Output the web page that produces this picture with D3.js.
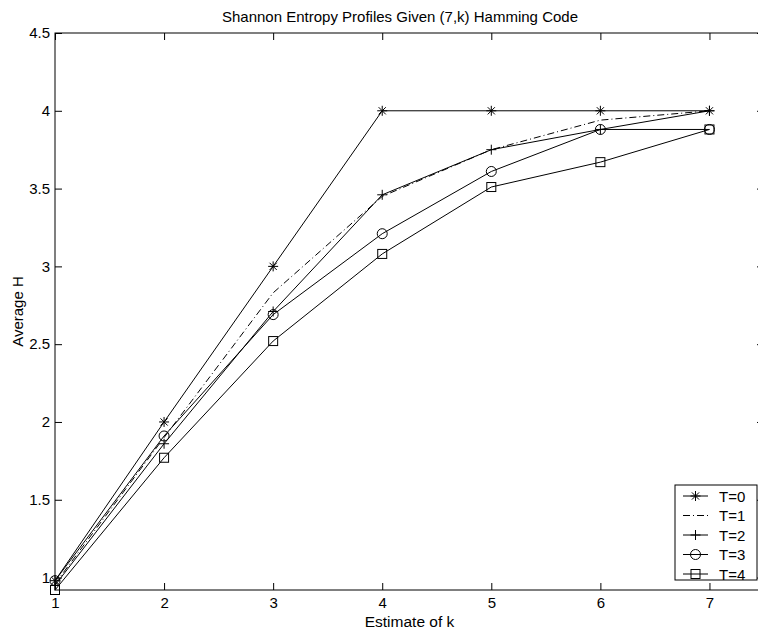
<!DOCTYPE html>
<html>
<head>
<meta charset="utf-8">
<script src="https://cdn.jsdelivr.net/npm/d3@7"></script>
<style>
  body { margin: 0; background: #fff; }
  svg { display: block; font-family: 'Liberation Sans', Arial, sans-serif; }
</style>
</head>
<body>
<div id="chart"></div>
<script>
const ks = [1, 2, 3, 4, 5, 6, 7];
const t0 = [0.98, 2.0, 3.0, 4.0, 4.0, 4.0, 4.0];
const t1 = [0.96, 1.90, 2.83, 3.45, 3.75, 3.94, 4.0];
const t2 = [0.95, 1.86, 2.71, 3.46, 3.75, 3.88, 4.0];
const t3 = [0.98, 1.91, 2.69, 3.21, 3.61, 3.88, 3.88];
const t4 = [0.92, 1.77, 2.52, 3.08, 3.51, 3.67, 3.88];
const seriesNames = ['T=0', 'T=1', 'T=2', 'T=3', 'T=4'];
const xTicks = [1, 2, 3, 4, 5, 6, 7];
const yTicks = [1, 1.5, 2, 2.5, 3, 3.5, 4, 4.5];

const width = 758;
const height = 635;
const margin = { top: 33, right: -6, bottom: 45, left: 55 };
const plotW = width - margin.left - margin.right;
const plotH = height - margin.top - margin.bottom;

const series = [
  { name: seriesNames[0], values: t0, marker: 'star', dash: null },
  { name: seriesNames[1], values: t1, marker: null, dash: '7,3,1,3' },
  { name: seriesNames[2], values: t2, marker: 'plus', dash: null },
  { name: seriesNames[3], values: t3, marker: 'circle', dash: null },
  { name: seriesNames[4], values: t4, marker: 'square', dash: null }
];

const svg = d3.select('#chart')
  .append('svg')
  .attr('width', width)
  .attr('height', height);

const g = svg.append('g')
  .attr('transform', `translate(${margin.left},${margin.top})`);

const x = d3.scaleLinear()
  .domain([1, 7.5])
  .range([0, plotW]);

const y = d3.scaleLinear()
  .domain([0.92, 4.5])
  .range([plotH, 0]);

// frame
g.append('rect')
  .attr('width', plotW)
  .attr('height', plotH)
  .attr('fill', 'none')
  .attr('stroke', '#000')
  .attr('stroke-width', 1);

const fmt = d => String(d);

function styleAxis(sel) {
  sel.select('.domain').remove();
  sel.selectAll('line').attr('stroke', '#000');
  sel.selectAll('text')
    .attr('fill', '#000')
    .style('font-size', '15px')
    .style('font-family', "'Liberation Sans', Arial, sans-serif");
}

g.append('g')
  .attr('transform', `translate(0,${plotH})`)
  .call(d3.axisBottom(x).tickValues(xTicks).tickFormat(fmt).tickSize(-7).tickPadding(7))
  .call(styleAxis);

g.append('g')
  .call(d3.axisTop(x).tickValues(xTicks).tickFormat('').tickSize(-7))
  .call(styleAxis);

g.append('g')
  .call(d3.axisLeft(y).tickValues(yTicks).tickFormat(fmt).tickSize(-7).tickPadding(5))
  .call(styleAxis);

g.append('g')
  .attr('transform', `translate(${plotW},0)`)
  .call(d3.axisRight(y).tickValues(yTicks).tickFormat('').tickSize(-7))
  .call(styleAxis);

function drawMarker(sel, type, cx, cy) {
  const s = 5;
  if (type === 'star') {
    const d = s * 0.72;
    sel.append('path')
      .attr('d', `M${cx - s},${cy}L${cx + s},${cy}M${cx},${cy - s}L${cx},${cy + s}` +
        `M${cx - d},${cy - d}L${cx + d},${cy + d}M${cx - d},${cy + d}L${cx + d},${cy - d}`)
      .attr('stroke', '#000').attr('fill', 'none');
  } else if (type === 'plus') {
    sel.append('path')
      .attr('d', `M${cx - s},${cy}L${cx + s},${cy}M${cx},${cy - s}L${cx},${cy + s}`)
      .attr('stroke', '#000').attr('fill', 'none');
  } else if (type === 'circle') {
    sel.append('circle')
      .attr('cx', cx).attr('cy', cy).attr('r', 5)
      .attr('stroke', '#000').attr('fill', 'none');
  } else if (type === 'square') {
    sel.append('rect')
      .attr('x', cx - 4.5).attr('y', cy - 4.5)
      .attr('width', 9).attr('height', 9)
      .attr('stroke', '#000').attr('fill', 'none');
  }
}

const line = d3.line()
  .x((d, i) => x(ks[i]))
  .y(d => y(d));

series.forEach(s => {
  g.append('path')
    .datum(s.values)
    .attr('fill', 'none')
    .attr('stroke', '#000')
    .attr('stroke-width', 1)
    .attr('stroke-dasharray', s.dash)
    .attr('d', line);

  if (s.marker) {
    const mg = g.append('g');
    s.values.forEach((v, i) => drawMarker(mg, s.marker, x(ks[i]), y(v)));
  }
});

// legend
const legend = svg.append('g')
  .attr('transform', 'translate(675,485)');

legend.append('rect')
  .attr('width', 82)
  .attr('height', 95)
  .attr('fill', '#fff')
  .attr('stroke', '#000');

series.forEach((s, i) => {
  const row = legend.append('g')
    .attr('transform', `translate(0,${11 + i * 19.5})`);
  row.append('line')
    .attr('x1', 8).attr('x2', 33)
    .attr('y1', 0).attr('y2', 0)
    .attr('stroke', '#000')
    .attr('stroke-dasharray', s.dash);
  if (s.marker) drawMarker(row, s.marker, 20.5, 0);
  row.append('text')
    .attr('x', 44)
    .attr('y', 5.5)
    .style('font-size', '15px')
    .text(s.name);
});

svg.append('text')
  .attr('x', 400)
  .attr('y', 22)
  .attr('text-anchor', 'middle')
  .style('font-size', '15px')
  .text('Shannon Entropy Profiles Given (7,k) Hamming Code');

svg.append('text')
  .attr('x', margin.left + plotW / 2)
  .attr('y', 627)
  .attr('text-anchor', 'middle')
  .style('font-size', '15.5px')
  .text('Estimate of k');

svg.append('text')
  .attr('transform', `translate(23,${margin.top + plotH / 2}) rotate(-90)`)
  .attr('text-anchor', 'middle')
  .style('font-size', '15px')
  .text('Average H');
</script>
</body>
</html>
